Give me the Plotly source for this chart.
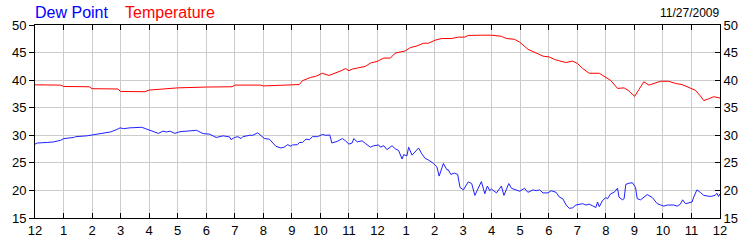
import plotly.graph_objects as go

# Temperature (hours since midnight, degrees F)
temp_hours = [0, 0.9, 1.0, 1.9, 2.0, 2.9, 3.0, 3.85, 4.0, 5.0, 6.0, 6.9, 7.0, 7.9, 8.0, 9.0, 9.26,
              9.37, 9.49, 9.66, 9.84, 10.07, 10.3, 10.53, 10.77, 10.88, 11.0, 11.11, 11.35, 11.58,
              11.75, 11.99, 12.22, 12.45, 12.62, 12.97, 13.15, 13.38, 13.61, 13.79, 14.02, 14.25,
              14.6, 14.83, 15.06, 15.18, 15.64, 15.99, 16.34, 16.52, 16.8, 16.98, 17.27, 17.45,
              17.62, 17.8, 18.02, 18.2, 18.37, 18.6, 18.84, 19.01, 19.19, 19.42, 19.77, 19.94,
              20.17, 20.41, 20.64, 20.81, 21.01, 21.16, 21.33, 21.51, 21.68, 21.92, 22.2, 22.44,
              22.67, 22.96, 23.14, 23.31, 23.43, 23.6, 23.78, 24.0]
temp_vals = [39.15, 39.1, 38.85, 38.8, 38.45, 38.4, 37.95, 37.9, 38.2, 38.6, 38.75, 38.8, 39.1, 39.1, 38.95, 39.1, 39.2,
             39.9, 40.2, 40.5, 40.7, 41.25, 40.85, 41.25, 41.8, 42.1, 41.7, 42.0, 42.25, 42.5,
             43.1, 43.4, 44.0, 44.0, 44.9, 45.3, 45.9, 46.2, 46.7, 46.7, 47.25, 47.55,
             47.55, 47.8, 47.8, 48.1, 48.15, 48.15, 47.95, 47.55, 47.4, 46.9, 45.6, 45.2,
             44.75, 44.35, 44.2, 43.75, 43.5, 43.2, 43.45, 43.0, 42.1, 41.25, 41.25, 40.7,
             39.95, 38.5, 38.6, 38.05, 37.05, 38.3, 39.7, 39.1, 39.4, 39.8, 39.8, 39.4,
             39.2, 38.6, 38.15, 37.15, 36.3, 36.6, 37.0, 36.75]

# Dew point (hours since midnight, degrees F)
dew_hours = [0, 0.08, 0.43, 0.66, 0.9, 1.01, 1.36, 1.42, 1.82, 2.0, 2.17, 2.4, 2.64, 2.87, 2.98, 3.1,
             3.33, 3.74, 4.03, 4.32, 4.49, 4.61, 4.73, 4.9, 5.08, 5.31, 5.66, 5.89, 6.12, 6.35, 6.59,
             6.82, 6.87, 6.99, 7.11, 7.22, 7.28, 7.52, 7.63, 7.8, 8.04, 8.21, 8.44, 8.62, 8.73, 8.85,
             8.97, 9.02, 9.2, 9.26, 9.37, 9.49, 9.61, 9.72, 9.9, 10.07, 10.19, 10.33, 10.4, 10.59,
             10.77, 10.88, 11.0, 11.11, 11.17, 11.29, 11.46, 11.58, 11.75, 11.87, 12.04, 12.1, 12.22,
             12.33, 12.39, 12.51, 12.62, 12.74, 12.86, 12.92, 13.03, 13.09, 13.21, 13.44, 13.55,
             13.67, 13.79, 13.96, 14.08, 14.16, 14.31, 14.43, 14.48, 14.57, 14.69, 14.81, 14.89,
             15.01, 15.18, 15.3, 15.41, 15.64, 15.76, 15.85, 15.93, 15.99, 16.17, 16.34, 16.43,
             16.52, 16.6, 16.69, 16.86, 16.98, 17.15, 17.27, 17.45, 17.56, 17.68, 17.8, 17.97,
             18.08, 18.26, 18.37, 18.49, 18.61, 18.72, 18.84, 18.95, 19.07, 19.19, 19.3, 19.42,
             19.54, 19.65, 19.71, 19.77, 19.89, 20.0, 20.06, 20.17, 20.29, 20.35, 20.41, 20.46,
             20.58, 20.64, 20.7, 20.81, 20.93, 21.04, 21.1, 21.22, 21.45, 21.63, 21.8, 22.03,
             22.15, 22.38, 22.5, 22.61, 22.69, 22.79, 22.9, 23.02, 23.08, 23.19, 23.31, 23.43,
             23.66, 23.83, 23.89, 23.95, 24.0]
dew_vals = [28.4, 28.6, 28.7, 28.8, 29.1, 29.4, 29.6, 29.75, 29.9, 30.05, 30.2, 30.35, 30.6, 31.05, 31.35, 31.2,
            31.35, 31.45, 30.9, 30.35, 30.75, 30.6, 30.75, 30.35, 30.65, 30.7, 30.9, 30.3, 30.2, 29.6, 29.9,
            29.7, 29.2, 29.6, 29.75, 29.4, 29.75, 30.0, 30.0, 30.45, 29.4, 29.3, 28.0, 27.7, 27.85, 28.3,
            28.0, 28.25, 28.3, 28.7, 28.7, 29.3, 29.2, 29.75, 29.75, 30.15, 30.0, 30.05, 28.6, 28.9,
            29.4, 29.0, 28.4, 28.6, 29.4, 28.8, 29.0, 28.5, 27.85, 28.1, 28.25, 27.85, 28.1,
            27.4, 27.65, 28.1, 27.55, 27.25, 25.7, 26.5, 26.25, 27.85, 26.4, 27.7, 26.65,
            25.8, 25.5, 24.9, 24.3, 22.6, 24.9, 23.75, 23.75, 22.9, 23.15, 22.9, 20.55,
            20.1, 21.55, 21.25, 19.1, 21.6, 19.4, 20.8, 19.95, 20.25, 19.55, 20.8, 19.1,
            20.25, 21.25, 20.4, 20.1, 19.85, 20.4, 19.65, 20.1, 19.95, 20.1, 19.55, 19.55,
            19.95, 19.65, 18.8, 18.5, 17.35, 16.75, 16.85, 17.35, 17.45, 17.6, 17.35, 17.5,
            17.2, 16.9, 17.9, 17.05, 18.2, 18.7, 18.5, 19.4, 19.65, 20.1, 20.4, 18.8,
            18.3, 18.5, 21.1, 21.3, 21.4, 20.55, 18.5, 18.3, 19.25, 18.7, 17.6, 17.15,
            17.35, 17.35, 17.15, 17.5, 18.3, 17.6, 17.75, 17.9, 18.8, 20.1, 19.65, 19.1,
            18.9, 19.1, 19.5, 18.9, 19.4]

tick_hours = list(range(0, 25))
tick_labels = ["12", "1", "2", "3", "4", "5", "6", "7", "8", "9", "10", "11",
               "12", "1", "2", "3", "4", "5", "6", "7", "8", "9", "10", "11", "12"]
y_ticks = [15, 20, 25, 30, 35, 40, 45, 50]
title_left = "Dew Point"
title_right = "Temperature"
date_label = "11/27/2009"

fig = go.Figure()
fig.add_trace(go.Scatter(x=temp_hours, y=temp_vals, mode="lines",
                         line=dict(color="#ff0000", width=1), showlegend=False))
fig.add_trace(go.Scatter(x=dew_hours, y=dew_vals, mode="lines",
                         line=dict(color="#2020ff", width=1), showlegend=False))
# invisible trace to anchor right-side axis
fig.add_trace(go.Scatter(x=[0], y=[15], yaxis="y2", mode="markers",
                         marker=dict(opacity=0), showlegend=False, hoverinfo="skip"))

font = dict(family="Arial, Liberation Sans, sans-serif", size=13, color="#000000")
title_family = "Arial, Liberation Sans, sans-serif"

fig.update_layout(
    width=750, height=250,
    margin=dict(l=31, r=30, t=25, b=25),
    paper_bgcolor="white", plot_bgcolor="white",
    font=font,
    xaxis=dict(range=[0, 24], tickvals=tick_hours, ticktext=tick_labels,
               showgrid=True, gridcolor="#cccccc", gridwidth=1,
               showline=True, linecolor="black", linewidth=1, mirror="ticks",
               ticks="inside", ticklen=5, tickcolor="black", zeroline=False,
               tickfont=font),
    yaxis=dict(range=[15, 50], tickvals=y_ticks, showgrid=True, gridcolor="#cccccc",
               gridwidth=1, showline=True, linecolor="black", linewidth=1,
               ticks="outside", ticklen=5, tickcolor="black", zeroline=False,
               tickfont=font),
    yaxis2=dict(range=[15, 50], tickvals=y_ticks, overlaying="y", side="right",
                showgrid=False, showline=True, linecolor="black", linewidth=1,
                ticks="inside", ticklen=5, tickcolor="black", zeroline=False,
                tickfont=font),
    annotations=[
        dict(text=title_left, xref="paper", yref="paper", x=0, y=1, xanchor="left",
             yanchor="bottom", xshift=-2, yshift=2, showarrow=False,
             font=dict(family=title_family, size=16, color="#0000ff")),
        dict(text=title_right, xref="paper", yref="paper", x=0, y=1, xanchor="left",
             yanchor="bottom", xshift=88, yshift=2, showarrow=False,
             font=dict(family=title_family, size=16, color="#ff0000")),
        dict(text=date_label, xref="paper", yref="paper", x=1, y=1, xanchor="right",
             yanchor="bottom", xshift=1, yshift=3, showarrow=False,
             font=dict(family=title_family, size=12, color="#000000")),
    ],
)

fig.write_html("out.html")
